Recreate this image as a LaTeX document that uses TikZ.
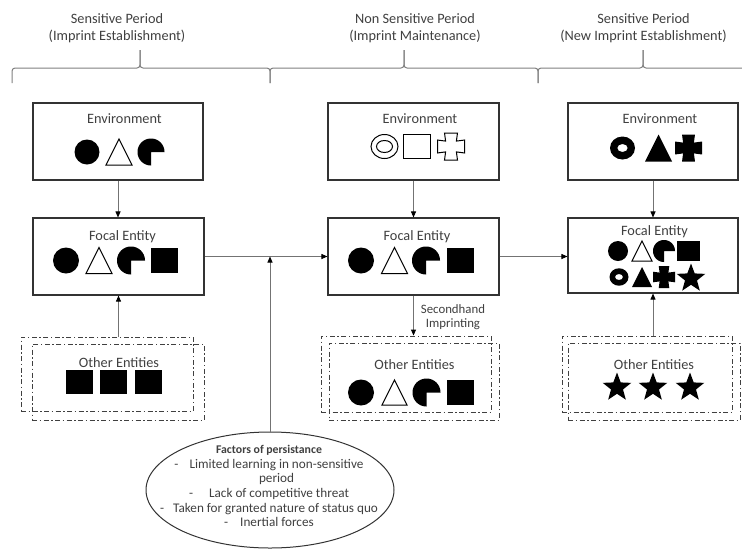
\documentclass[tikz,border=0pt]{standalone}
\usepackage{fontspec}
\setmainfont{Carlito}
\usetikzlibrary{shapes.geometric,arrows.meta}
\tikzset{
  box/.style={draw=black!80, line width=1.1pt, minimum width=170, minimum height=77, inner sep=0pt},
  dd/.style={draw=black!75, line width=0.9pt, dash pattern=on 5pt off 2.5pt on 1.5pt off 2.5pt, inner sep=0pt},
  lbl/.style={text=black!75, font=\fontsize{14.3}{17}\selectfont, inner sep=0pt, anchor=base},
  arr/.style={draw=black!55, line width=0.9pt, -{Triangle[length=6pt,width=5pt,color=black]}},
  brc/.style={draw=black!50, line width=1pt, rounded corners=3pt},
  shp/.style={fill=black},
  oshp/.style={draw=black, line width=1pt, fill=white},
}
\newcommand\shCircle[3]{\fill[shp] (#1,#2) circle (#3);}
\newcommand\shTri[4][oshp]{\path[#1] ({#2-#4/2},{#3+#4/2}) -- (#2,{#3-#4/2}) -- ({#2+#4/2},{#3+#4/2}) -- cycle;}
\newcommand\shPac[3]{\fill[shp] (#1,#2) -- plot[domain=0:-270, samples=46] ({#1+#3*cos(\x)},{#2+#3*sin(\x)}) -- cycle;}
\newcommand\shRect[5][shp]{\path[#1] ({#2-#4/2},{#3-#5/2}) rectangle ({#2+#4/2},{#3+#5/2});}
\newcommand\shDbl[2]{\draw[oshp] (#1,#2) ellipse[x radius=13.5,y radius=12]; \draw[oshp] (#1,#2) ellipse[x radius=8,y radius=6];}
\newcommand\shRing[3]{\fill[shp,even odd rule] (#1,#2) ellipse[x radius=#3,y radius={0.92*#3}] (#1,#2) ellipse[x radius={0.42*#3},y radius={0.32*#3}];}
\newcommand\shCross[4][shp]{\path[#1] ({#2-0.48*#4},{#3-#4}) -- ({#2+0.48*#4},{#3-#4}) -- ({#2+0.4*#4},{#3-0.4*#4}) -- ({#2+#4},{#3-0.48*#4}) -- ({#2+#4},{#3+0.48*#4}) -- ({#2+0.4*#4},{#3+0.4*#4}) -- ({#2+0.48*#4},{#3+#4}) -- ({#2-0.48*#4},{#3+#4}) -- ({#2-0.4*#4},{#3+0.4*#4}) -- ({#2-#4},{#3+0.48*#4}) -- ({#2-#4},{#3-0.48*#4}) -- ({#2-0.4*#4},{#3-0.4*#4}) -- cycle;}
\newcommand\shStar[3]{\fill[shp] ([shift={(#1,#2)}]-90:#3) -- ([shift={(#1,#2)}]-54:{0.42*#3}) -- ([shift={(#1,#2)}]-18:#3) -- ([shift={(#1,#2)}]18:{0.42*#3}) -- ([shift={(#1,#2)}]54:#3) -- ([shift={(#1,#2)}]90:{0.42*#3}) -- ([shift={(#1,#2)}]126:#3) -- ([shift={(#1,#2)}]162:{0.42*#3}) -- ([shift={(#1,#2)}]198:#3) -- ([shift={(#1,#2)}]234:{0.42*#3}) -- cycle;}
\begin{document}
\begin{tikzpicture}[x=1pt,y=-1pt]
\useasboundingbox[fill=white] (0,0) rectangle (742,550);

% titles
\node[lbl] (t1a) at (117,23) {Sensitive Period};
\node[lbl] (t1b) at (117,40) {(Imprint Establishment)};
\node[lbl] (t2a) at (415,23) {Non Sensitive Period};
\node[lbl] (t2b) at (415,40) {(Imprint Maintenance)};
\node[lbl] (t3a) at (643.5,23) {Sensitive Period};
\node[lbl] (t3b) at (643.5,40) {(New Imprint Establishment)};

% braces
\draw[brc] (12,83) |- (140,68) -- (140,50);
\draw[brc] (270,83) |- (140,68) -- (140,50);
\draw[brc] (270,83) |- (404,68) -- (404,50);
\draw[brc] (538,83) |- (404,68) -- (404,50);
\draw[brc] (538,83) |- (643,68) -- (643,50);
\draw[brc] (742,68) -- (643,68) -- (643,50);

% boxes
\node[box] (env1) at (118,141.5) {};
\node[box, minimum width=171] (env2) at (413.5,141.5) {};
\node[box] (env3) at (653,141.5) {};
\node[box, minimum width=171] (f1) at (118.5,256.5) {};
\node[box, minimum width=171] (f2) at (413.5,256.5) {};
\node[box, minimum height=75] (f3) at (653,255.5) {};

\node[dd, minimum width=172, minimum height=74] (o1a) at (107,374) {};
\node[dd, minimum width=172, minimum height=76] (o1b) at (118,382) {};
\node[dd, minimum width=170, minimum height=76] (o2a) at (406,374) {};
\node[dd, minimum width=170, minimum height=77] (o2b) at (414,381.5) {};
\node[dd, minimum width=170, minimum height=76] (o3a) at (647,374) {};
\node[dd, minimum width=172, minimum height=77] (o3b) at (654,381.5) {};

% labels
\node[lbl] (le1) at (124.5,123) {Environment};
\node[lbl] (le2) at (420,123) {Environment};
\node[lbl] (le3) at (660,123) {Environment};
\node[lbl] (lf1) at (122.5,240) {Focal Entity};
\node[lbl] (lf2) at (417,240) {Focal Entity};
\node[lbl] (lf3) at (654.5,235) {Focal Entity};
\node[lbl] (lo1) at (119,367) {Other Entities};
\node[lbl] (lo2) at (414.5,369) {Other Entities};
\node[lbl] (lo3) at (654,369) {Other Entities};

% shapes: environment
\shCircle{87}{152}{12.5}
\shTri{119}{152}{26}
\shPac{151}{152}{13.5}
\shDbl{384.5}{146.5}
\shRect[oshp]{416.5}{146.5}{27}{24}
\shCross[oshp]{451}{146.5}{13.5}
\shRing{622.5}{148}{12.5}
\shTri[shp]{658.5}{148}{27}
\shCross{688.5}{148}{13.5}

% shapes: focal
\shCircle{66}{260.5}{13}
\shTri{99}{260.5}{26}
\shPac{131}{260.5}{14}
\shRect{164.5}{260.5}{27}{25}
\shCircle{361}{260.5}{13}
\shTri{394.5}{260.5}{26}
\shPac{426}{260.5}{14}
\shRect{460}{260.5}{27}{25}
\shCircle{618}{251}{10}
\shTri{642}{251}{20}
\shPac{664}{251}{11}
\shRect{688.5}{251}{23}{20}
\shRing{619}{277}{9.5}
\shTri[shp]{642}{277}{20}
\shCross{664}{277}{11}
\shStar{691}{278.5}{15}

% shapes: others
\shRect{79.5}{382}{27}{24}
\shRect{113.5}{382}{27}{24}
\shRect{148}{382}{27}{24}
\shCircle{361}{392.5}{13}
\shTri{394.5}{392.5}{25}
\shPac{426.5}{392.5}{14}
\shRect{460.5}{392.5}{27}{25}
\shStar{617}{387.5}{15}
\shStar{653}{387.5}{15}
\shStar{690}{387.5}{15}

% factors ellipse
\node[draw=black!80, line width=1pt, ellipse, minimum width=248, minimum height=116, inner sep=0pt] (fac) at (270,490) {};
\node[text=black!75, font=\fontsize{13.2}{14.6}\selectfont, align=center, inner sep=0pt] (factxt) at (269,486) {%
{\fontsize{11.8}{14.6}\selectfont\textbf{Factors of persistance}}\\
-\hspace{11pt}Limited learning in non-sensitive\\
\hphantom{-\hspace{11pt}}period\\
-\hspace{16pt}Lack of competitive threat\\
-\hspace{9pt}Taken for granted nature of status quo\\
-\hspace{12pt}Inertial forces};

\node[text=black!75, font=\fontsize{12.8}{14}\selectfont, align=center, inner sep=0pt] (sh) at (453,317) {Secondhand\\Imprinting};

% connectors
\draw[arr] (env1.south) -- (env1.south |- f1.north);
\draw[arr] (env2.south) -- (env2.south |- f2.north);
\draw[arr] (env3.south) -- (env3.south |- f3.north);
\draw[arr] (o1a.north -| f1.south) -- (f1.south);
\draw[arr] (o3a.north -| f3.south) -- (f3.south);
\draw[arr] (f2.south) -- (f2.south |- o2a.north);
\draw[arr] (f1.east) -- (f2.west);
\draw[arr] (f2.east) -- (f3.west |- f2.east);
\draw[arr] (fac.north) -- (fac.north |- f1.east);
\end{tikzpicture}
\end{document}
